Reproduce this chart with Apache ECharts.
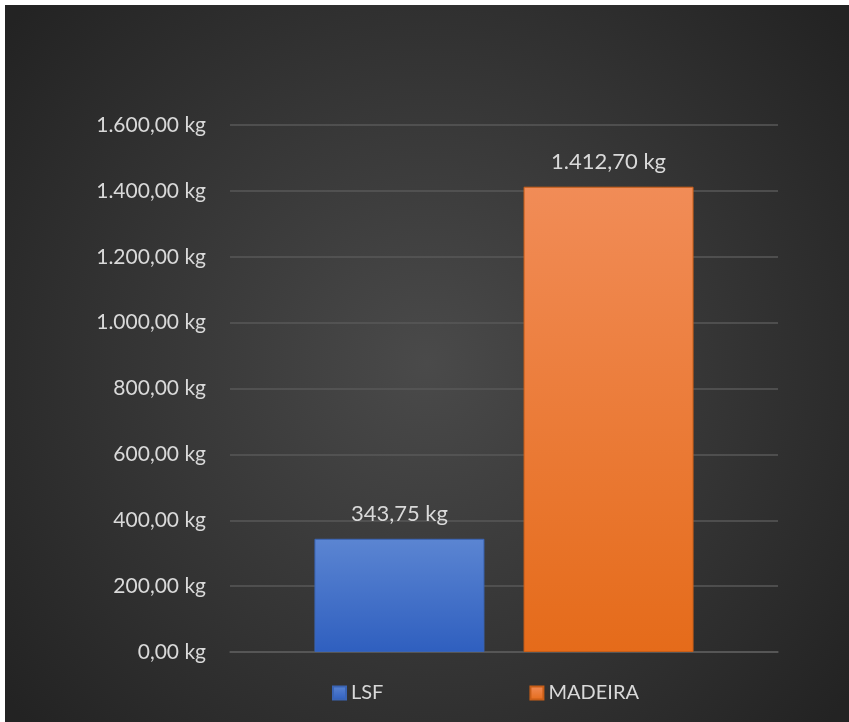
<!DOCTYPE html>
<html>
<head>
<meta charset="utf-8">
<script src="https://cdn.jsdelivr.net/npm/echarts@6/dist/echarts.min.js"></script>
<style>
  html,body{margin:0;padding:0;background:#ffffff;}
  #chart{position:absolute;left:5px;top:5px;width:844px;height:717px;}
</style>
</head>
<body>
<div id="chart"></div>
<script>
// dados do gráfico
var categories = ["Peso"];
var seriesNames = ["LSF", "MADEIRA"];
var lsfValues = [343.75];
var madeiraValues = [1412.70];
var yTicks = [0, 200, 400, 600, 800, 1000, 1200, 1400, 1600];

// formata número no padrão pt-BR: 1.412,70 kg
function fmtKg(v){
    var parts = Number(v).toFixed(2).split(".");
    parts[0] = parts[0].replace(/\B(?=(\d{3})+(?!\d))/g, ".");
    return parts[0] + "," + parts[1] + " kg";
}

var myChart = echarts.init(document.getElementById("chart"));

var fontFam = "Lato, 'Open Sans', sans-serif";

var option = {
    backgroundColor: {
        type: "radial", x: 0.5, y: 0.5, r: 0.75,
        colorStops: [
            {offset: 0, color: "#4a4a4a"},
            {offset: 1, color: "#232323"}
        ]
    },
    legend: {
        bottom: 14,
        left: 322,
        itemGap: 146,
        itemWidth: 13,
        itemHeight: 13,
        icon: "rect",
        data: seriesNames,
        textStyle: {color: "#d9d9d9", fontSize: 20, fontFamily: fontFam}
    },
    grid: {left: 225, right: 71, top: 120, bottom: 70},
    xAxis: {
        type: "category",
        data: categories,
        axisLine: {show: true, lineStyle: {color: "#595959", width: 1.5}},
        axisTick: {show: false},
        axisLabel: {show: false}
    },
    yAxis: {
        type: "value",
        min: yTicks[0],
        max: yTicks[yTicks.length - 1],
        interval: 200,
        axisLine: {show: false},
        axisTick: {show: false},
        splitLine: {lineStyle: {color: "#595959", width: 1.5}},
        axisLabel: {
            color: "#d9d9d9",
            fontSize: 21,
            fontFamily: fontFam,
            margin: 24,
            formatter: fmtKg
        }
    },
    series: [
        {
            name: seriesNames[0],
            type: "bar",
            data: lsfValues,
            barWidth: 170,
            barGap: "23%",
            itemStyle: {
                color: {
                    type: "linear", x: 0, y: 0, x2: 0, y2: 1,
                    colorStops: [
                        {offset: 0, color: "#5b85d2"},
                        {offset: 1, color: "#2f5fbf"}
                    ]
                },
                borderColor: "#3a64b4",
                borderWidth: 1
            },
            label: {
                show: true, position: "top", distance: 14,
                color: "#d9d9d9", fontSize: 22, fontFamily: fontFam,
                formatter: function(p){ return fmtKg(p.value); }
            }
        },
        {
            name: seriesNames[1],
            type: "bar",
            data: madeiraValues,
            barWidth: 170,
            itemStyle: {
                color: {
                    type: "linear", x: 0, y: 0, x2: 0, y2: 1,
                    colorStops: [
                        {offset: 0, color: "#f18c57"},
                        {offset: 1, color: "#e56b1a"}
                    ]
                },
                borderColor: "#c85e18",
                borderWidth: 1
            },
            label: {
                show: true, position: "top", distance: 14,
                color: "#d9d9d9", fontSize: 22, fontFamily: fontFam,
                formatter: function(p){ return fmtKg(p.value); }
            }
        }
    ]
};

myChart.setOption(option);
</script>
</body>
</html>
